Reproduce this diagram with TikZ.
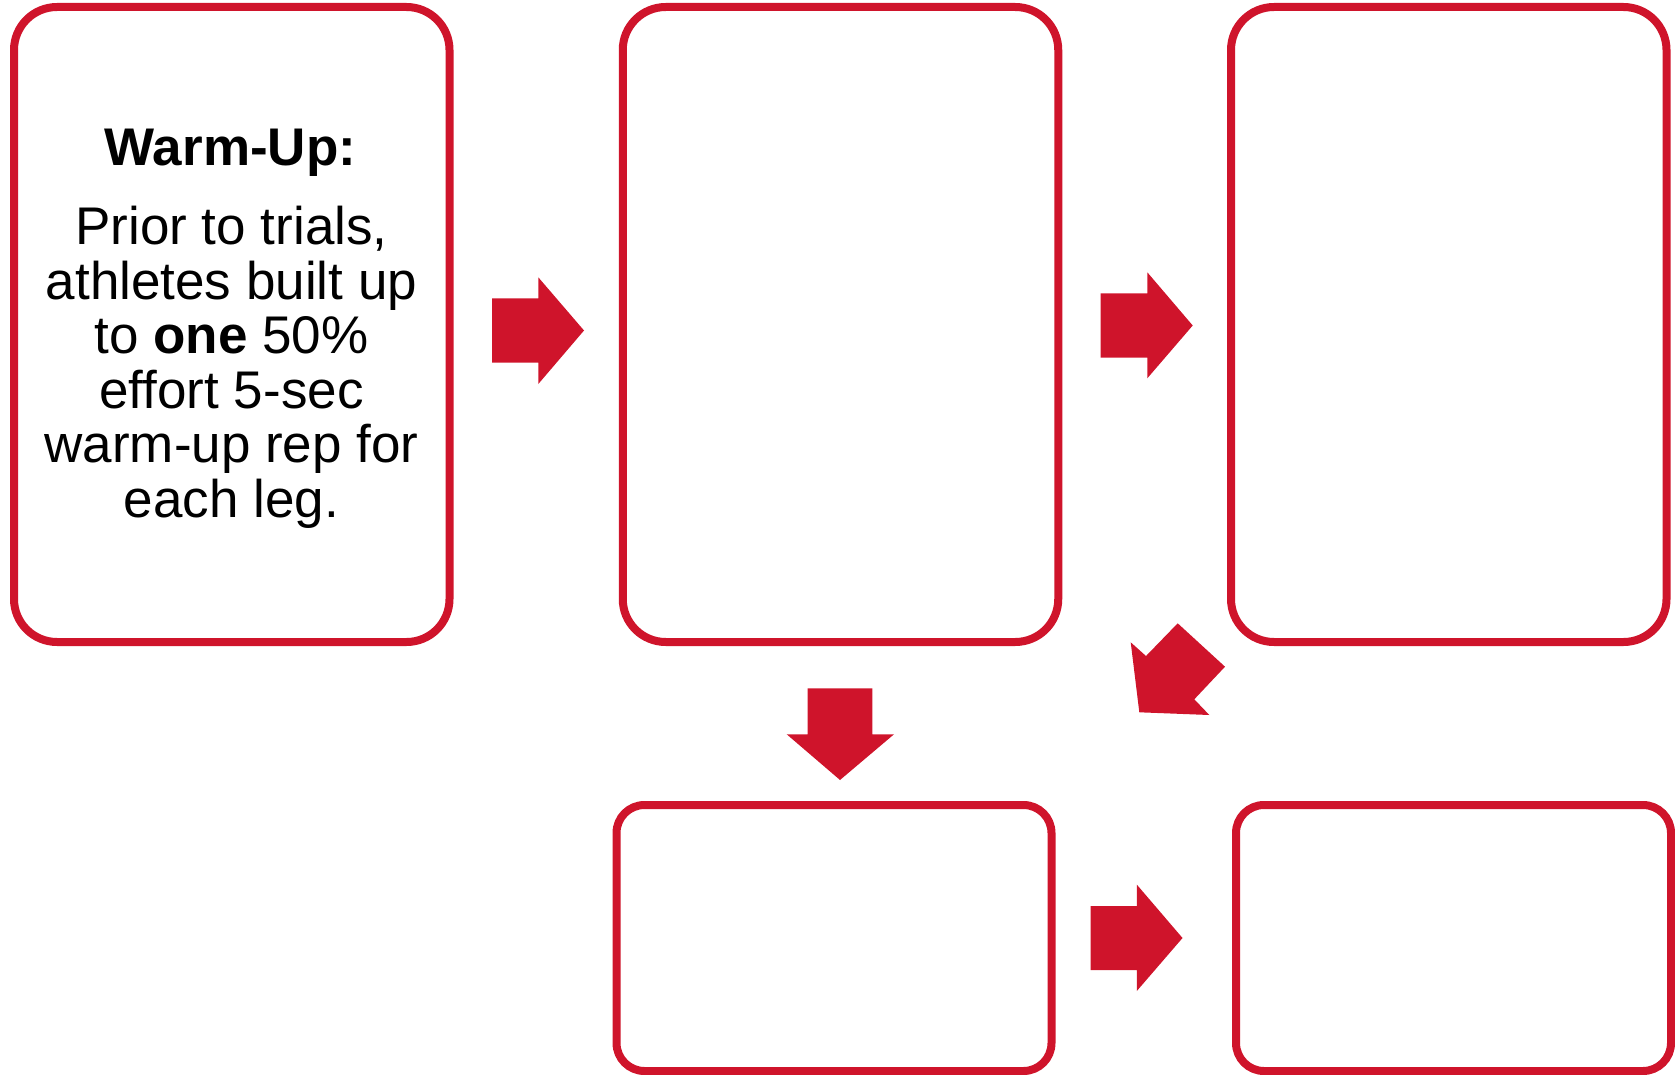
\documentclass[tikz,border=0pt]{standalone}
\usepackage{fontspec}
\setmainfont{Liberation Sans}
\definecolor{brandred}{RGB}{207,20,43}
\begin{document}
\begin{tikzpicture}[x=1pt,y=-1pt,
  card/.style={draw=brandred, line width=8pt, fill=white, inner sep=0pt},
  bigcard/.style={card, rounded corners=43pt, minimum width=435.5pt, minimum height=635pt},
  smallcard/.style={card, rounded corners=28pt, minimum width=435pt, minimum height=266pt},
  blockarrow/.style={fill=brandred, draw=none},
  txt/.style={anchor=base, inner sep=0pt, font=\fontsize{53}{56}\selectfont}]
\useasboundingbox (0,0) rectangle (1675,1075);
% cards
\node[bigcard] (b1) at (231.75,324.5) {};
\node[bigcard] (b2) at (840.5,324.5) {};
\node[bigcard] (b3) at (1448.75,324.5) {};
\node[smallcard] (b4) at (834,938) {};
\node[smallcard] (b5) at (1453.5,938) {};
% text of the first card
\node[txt] (t0) at (230.5,165.6) {\textbf{Warm-Up:}};
\node[txt] (t1) at (231.5,244.6) {Prior to trials,};
\node[txt] (t2) at (231.5,299.1) {athletes built up};
\node[txt] (t3) at (231.5,353.6) {to \textbf{one} 50\%};
\node[txt] (t4) at (231.5,408.1) {effort 5-sec};
\node[txt] (t5) at (231.5,462.6) {warm-up rep for};
\node[txt] (t6) at (231.5,517.1) {each leg.};
% block arrows
\fill[blockarrow] (492,298.3) -- (538.3,298.3) -- (538.3,277.3) -- (584,330.5) -- (538.3,384) -- (538.3,362.7) -- (492,362.7) -- cycle;
\fill[blockarrow] (1100.7,293.3) -- (1147.3,293.3) -- (1147.3,272.3) -- (1192.7,325.5) -- (1147.3,378.3) -- (1147.3,357.7) -- (1100.7,357.7) -- cycle;
\fill[blockarrow] (807.7,688.3) -- (872.3,688.3) -- (872.3,734.3) -- (894,734.3) -- (840,780) -- (786.7,734.3) -- (807.7,734.3) -- cycle;
\fill[blockarrow] (1177.7,623.3) -- (1225,666.7) -- (1194.3,699.3) -- (1209.3,715) -- (1139.3,712.3) -- (1130.7,642.3) -- (1146,656) -- cycle;
\fill[blockarrow] (1090.7,906) -- (1136.8,906) -- (1136.8,884.6) -- (1182.5,938) -- (1136.8,991) -- (1136.8,970) -- (1090.7,970) -- cycle;
\end{tikzpicture}
\end{document}
